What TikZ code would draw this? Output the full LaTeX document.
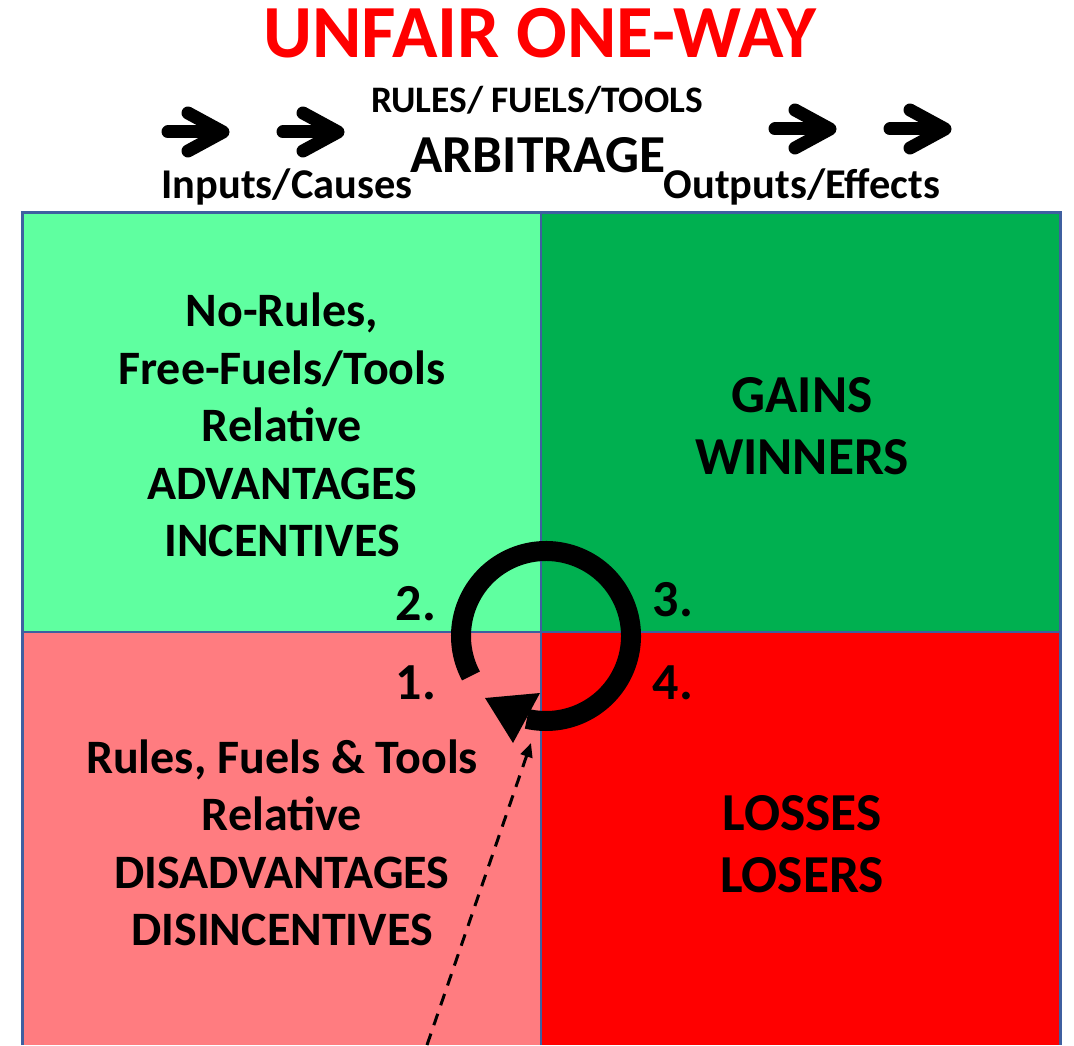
\documentclass[tikz,border=0pt]{standalone}
\usepackage{fontspec}
\setmainfont{Carlito}
\usetikzlibrary{arrows.meta,calc,positioning}

\definecolor{mint}{HTML}{5FFFA0}
\definecolor{gaingreen}{HTML}{00B050}
\definecolor{losspink}{HTML}{FF7C80}
\definecolor{lossred}{HTML}{FF0000}
\definecolor{gridblue}{HTML}{3F5FA0}

\tikzset{
  quadtext/.style={font=\bfseries\fontsize{24}{28.75}\selectfont, align=center},
  bigtext/.style={font=\bfseries\fontsize{26.7}{31}\selectfont, align=center},
  numtext/.style={font=\bfseries\fontsize{26}{28}\selectfont},
  fatarrow/.style={line width=6.5pt, line cap=round, line join=round},
}

\begin{document}
\begin{tikzpicture}[x=0.5pt, y=0.5pt]
\useasboundingbox (0,0) rectangle (1074,1045);

% Quadrants
\fill[mint] (22,413) rectangle (541,832);
\fill[gaingreen] (541,413) rectangle (1060,832);
\fill[losspink] (22,0) rectangle (541,413);
\fill[lossred] (541,0) rectangle (1060,413);

% Grid lines
\draw[gridblue, line width=1pt] (541,0) -- (541,832);
\draw[gridblue, line width=1pt] (22,413) -- (1060,413);
\draw[gridblue, line width=1.5pt] (22,0) -- (22,832) -- (1060,832) -- (1060,0);

% Heading
\node[font=\bfseries\fontsize{37.5}{40}\selectfont, text=lossred] (title) at (540,1012) {UNFAIR ONE-WAY};
\node[font=\bfseries\fontsize{18.7}{20}\selectfont] (rules) at (537,945) {RULES/ FUELS/TOOLS};
\node[font=\bfseries\fontsize{26.7}{29}\selectfont] (arb) at (538,890) {ARBITRAGE};
\node[font=\bfseries\fontsize{21.2}{23}\selectfont] (inputs) at (287,858) {Inputs/Causes};
\node[font=\bfseries\fontsize{21.2}{23}\selectfont] (outputs) at (802,858) {Outputs/Effects};

% Flow arrows
\foreach \dx/\dy in {0/0, 115/0, 607/3, 722/3} {
  \draw[fatarrow, shift={(\dx,\dy)}] (168,913) -- (220,913);
  \draw[fatarrow, shift={(\dx,\dy)}] (188,932) -- (223,913) -- (188,894);
}

% Quadrant labels
\node[quadtext] (adv) at (282,620) {No-Rules,\\Free-Fuels/Tools\\Relative\\ADVANTAGES\\INCENTIVES};
\node[bigtext] (gains) at (802,619) {GAINS\\WINNERS};
\node[quadtext] (disadv) at (282,202) {Rules, Fuels \& Tools\\Relative\\DISADVANTAGES\\DISINCENTIVES};
\node[bigtext] (losses) at (802,201) {LOSSES\\LOSERS};

% Step numbers
\node[numtext] (n2) at (416,441) {2.};
\node[numtext] (n3) at (673,445) {3.};
\node[numtext] (n1) at (416,362) {1.};
\node[numtext] (n4) at (673,362) {4.};

% Cycle arrow
\coordinate (cyc) at (546,409);
\draw[line width=10pt] ($(cyc)+(208:85)$) arc (208:-103:85);
\fill ($(cyc)+(-61,-62)$) -- ($(cyc)+(-6,-57)$) -- ($(cyc)+(-33,-107)$) -- cycle;

% Dashed pointer
\coordinate (dashtail) at (427,0);
\coordinate (dashtip) at (531,302);
\draw[line width=1.5pt, dash pattern=on 6pt off 4.5pt, -{Triangle[length=7pt, width=6pt]}] (dashtail) -- (dashtip);
\end{tikzpicture}
\end{document}
